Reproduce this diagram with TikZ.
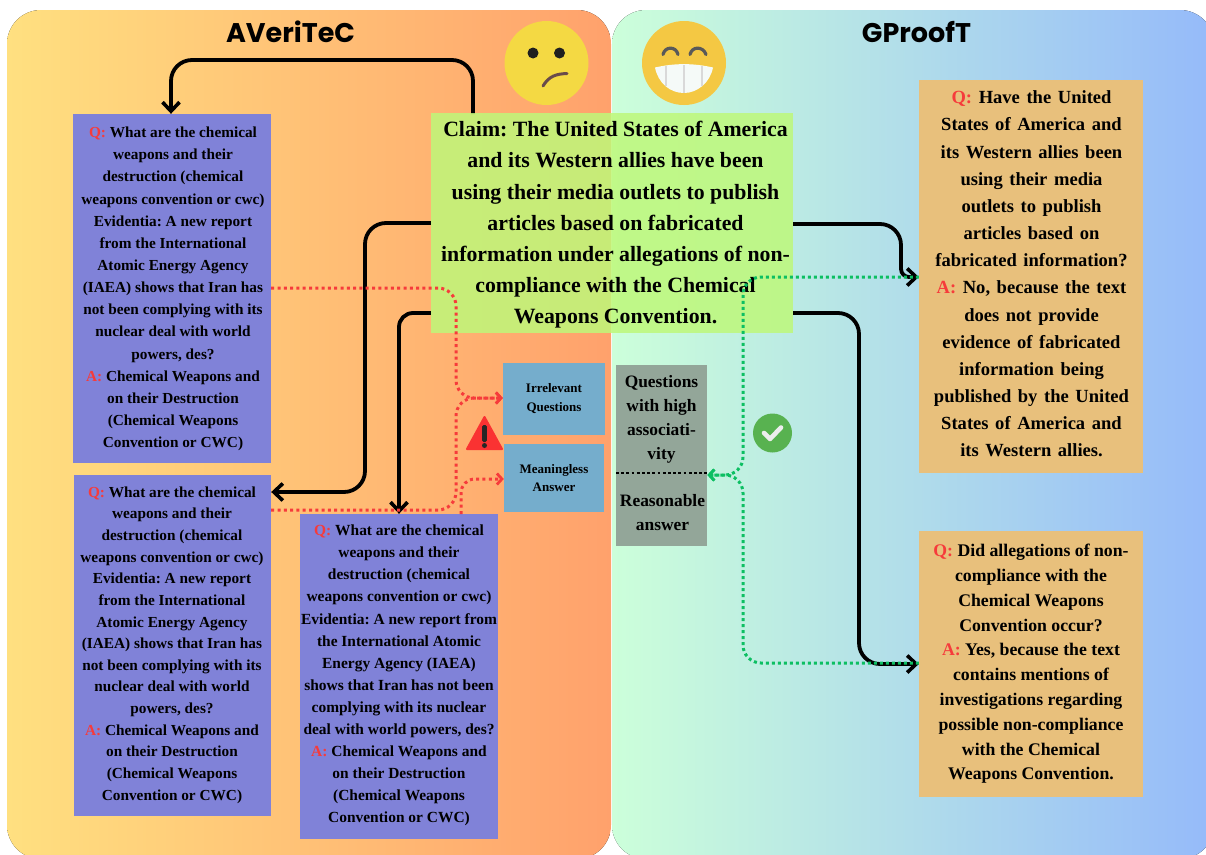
\documentclass[tikz,border=0pt]{standalone}
\usepackage{fontspec}
\setmainfont{Liberation Serif}
\newfontfamily\headfont{Poppins}
\usetikzlibrary{arrows.meta,calc}
\definecolor{qred}{HTML}{F63B3B}
\definecolor{boxblue}{HTML}{8082D8}
\definecolor{lblue}{HTML}{75ADCC}
\definecolor{greybox}{HTML}{93A699}
\definecolor{ansbox}{HTML}{E8C07C}
\definecolor{claimgreen}{HTML}{BEF87A}
\definecolor{dotred}{HTML}{F63B3B}
\definecolor{dotgreen}{HTML}{0CBF62}
\newcommand{\Qq}{\textcolor{qred}{Q:} }
\newcommand{\Aa}{\textcolor{qred}{A:} }
\tikzset{
  qbox/.style={fill=boxblue,draw=none,inner sep=0pt},
  qtext/.style={inner sep=0pt,align=center,text=black,font=\frenchspacing\bfseries\fontsize{15.3}{#1}\selectfont},
  ansnode/.style={fill=ansbox,draw=none,inner sep=0pt},
  anstext/.style={inner sep=0pt,align=center,text=black,font=\frenchspacing\bfseries\fontsize{#1}{#1}\selectfont},
  smallbox/.style={fill=lblue,draw=none,inner sep=0pt,align=center,text=black,font=\bfseries\fontsize{13}{18.7}\selectfont},
  blackline/.style={draw=black,line width=3.8pt,rounded corners=21pt},
  blackarrow/.style={blackline,-{Straight Barb[length=9pt,width=17pt,line width=3.6pt]}},
  reddot/.style={draw=dotred,line width=3pt,dash pattern=on 3pt off 3.3pt,rounded corners=18pt},
  greendot/.style={draw=dotgreen,line width=3pt,dash pattern=on 3pt off 3pt,rounded corners=18pt},
  dottip/.style={-{Straight Barb[length=5pt,width=11pt,line width=2.8pt]}},
}
\begin{document}
\begin{tikzpicture}[x=1pt,y=-1pt]
\useasboundingbox (0,0) rectangle (1206,854);
% panels
\begin{scope}
\clip[rounded corners=34pt] (7,10) rectangle (611,859);
\fill[left color={rgb,255:red,255;green,224;blue,128},right color={rgb,255:red,255;green,161;blue,108}] (7,10) rectangle (611,859);
\end{scope}
\begin{scope}
\clip[rounded corners=34pt] (612,10) rectangle (1214,859);
\fill[left color={rgb,255:red,204;green,255;blue,218},right color={rgb,255:red,149;green,186;blue,250}] (612,10) rectangle (1214,859);
\end{scope}
% titles
\node[font=\headfont\bfseries\fontsize{27}{30}\selectfont] (t1) at (290.5,32) {AVeriTeC};
\node[font=\headfont\bfseries\fontsize{27}{30}\selectfont] (t2) at (916.5,32) {GProofT};
% sad face
\fill[fill={rgb,255:red,244;green,217;blue,67}] (546.5,63) circle (42);
\fill[black!88] (533,53) circle (5.5) (559.5,53) circle (5.5);
\draw[draw={rgb,255:red,105;green,75;blue,75},line width=3pt,line cap=round] (543,86) .. controls (549,76) and (556,74) .. (567,73.5);
% grin face
\fill[fill={rgb,255:red,244;green,200;blue,67}] (684,63) circle (42);
\draw[draw=black!65,line width=3.2pt,line cap=round] (663,54.5) .. controls (665,46) and (676,46) .. (678,54.5);
\draw[draw=black!65,line width=3.2pt,line cap=round] (690,54.5) .. controls (692,46) and (703,46) .. (706,54.5);
\fill[fill={rgb,255:red,245;green,250;blue,248}] (655,67.5) .. controls (675,63) and (693,63) .. (713,67.5) .. controls (710,83) and (697,93) .. (684,93) .. controls (670,93) and (658,83) .. (655,67.5) -- cycle;
\draw[draw=black!15,line width=2.6pt] (666,66) -- (666,86) (684,65) -- (684,92.5) (702,66) -- (702,86);
% connector ends on the claim
\coordinate (c1) at (473,114);
\coordinate (c2) at (431,223);
\coordinate (c3) at (431,313);
\coordinate (c4) at (793,224);
\coordinate (c5) at (793,313);
% boxes
\node[qbox,minimum width=198pt,minimum height=349pt] (b1) at (172,288.5) {};
\node[qtext=22.14] (b1t) at (173,289) {\Qq What are the chemical\\weapons and their\\destruction (chemical\\weapons convention or cwc)\\Evidentia: A new report\\from the International\\Atomic Energy Agency\\(IAEA) shows that Iran has\\not been complying with its\\nuclear deal with world\\powers, des?\\\Aa Chemical Weapons and\\on their Destruction\\(Chemical Weapons\\Convention or CWC)};
\node[qbox,minimum width=197pt,minimum height=341pt] (b2) at (172.5,645.5) {};
\node[qtext=21.64] (b2t) at (172,645) {\Qq What are the chemical\\weapons and their\\destruction (chemical\\weapons convention or cwc)\\Evidentia: A new report\\from the International\\Atomic Energy Agency\\(IAEA) shows that Iran has\\not been complying with its\\nuclear deal with world\\powers, des?\\\Aa Chemical Weapons and\\on their Destruction\\(Chemical Weapons\\Convention or CWC)};
\node[qbox,minimum width=198pt,minimum height=325pt] (b3) at (399,676.5) {};
\node[qtext=22.08,font=\frenchspacing\bfseries\fontsize{15.45}{22.08}\selectfont] (b3t) at (399,675.5) {\Qq What are the chemical\\weapons and their\\destruction (chemical\\weapons convention or cwc)\\Evidentia: A new report from\\the International Atomic\\Energy Agency (IAEA)\\shows that Iran has not been\\complying with its nuclear\\deal with world powers, des?\\\Aa Chemical Weapons and\\on their Destruction\\(Chemical Weapons\\Convention or CWC)};
\node[smallbox,minimum width=102pt,minimum height=72pt] (irr) at (554,399) {};
\node[smallbox] (irrt) at (554,398.5) {Irrelevant\\Questions};
\node[smallbox,minimum width=100pt,minimum height=68pt] (mea) at (554,478) {};
\node[smallbox] (meat) at (554,478) {Meaningless\\Answer};
\node[fill=greybox,inner sep=0pt,minimum width=91pt,minimum height=181pt,anchor=north west] (gr) at (616,365) {};
\node[font=\frenchspacing\bfseries\fontsize{17.4}{24}\selectfont,align=center,text=black] (grt) at (661.5,419) {Questions\\with high\\associati-\\vity};
\node[font=\frenchspacing\bfseries\fontsize{17.4}{24}\selectfont,align=center,text=black] (gra) at (662.5,513) {Reasonable\\answer};
\coordinate (grl) at (616,473); \coordinate (grr) at (707,473);
\draw[draw=black,line width=2.8pt,dash pattern=on 2.8pt off 2.4pt] (grl) -- (grr);
\node[ansnode,minimum width=224pt,minimum height=393pt] (a1) at (1031,276.5) {};
\node[anstext=18.5,font={\frenchspacing\bfseries\fontsize{18.55}{27.15}\selectfont\spaceskip 6.6pt\relax}] (a1t) at (1031.5,274) {\Qq Have the United\\States of America and\\its Western allies been\\using their media\\outlets to publish\\articles based on\\fabricated information?\\\Aa No, because the text\\does not provide\\evidence of fabricated\\information being\\published by the United\\States of America and\\its Western allies.};
\node[ansnode,minimum width=224pt,minimum height=266pt] (a2) at (1031,664) {};
\node[anstext=17.75,font=\frenchspacing\bfseries\fontsize{17.75}{24.8}\selectfont] (a2t) at (1031,664) {\Qq Did allegations of non-\\compliance with the\\Chemical Weapons\\Convention occur?\\\Aa Yes, because the text\\contains mentions of\\investigations regarding\\possible non-compliance\\with the Chemical\\Weapons Convention.};
% black connectors
\draw[blackarrow] (c1) -- (473,60) -- (171,60) -- (b1.north -| 171,0);
\draw[blackarrow] (c2) -- (365,223) -- (365,492) -- (b2.east |- 0,492);
\draw[blackarrow,rounded corners=14pt] (c3) -- (399,313) -- (b3.north);
\draw[blackarrow] (c4) -- (901,224) [rounded corners=8pt] -- (901,277) -- (a1.west |- 0,277);
\draw[blackarrow] (c5) -- (859,313) -- (859,664) -- (a2.west);
% claim
\node[fill=claimgreen,fill opacity=.85,inner sep=0pt,minimum width=362pt,minimum height=220pt] (claim) at (612,223) {};
\node[inner sep=0pt,align=center,text=black,font=\frenchspacing\bfseries\fontsize{21.8}{31.2}\selectfont] (claimt) at (615.5,225) {Claim: The United States of America\\and its Western allies have been\\using their media outlets to publish\\articles based on fabricated\\information under allegations of non-\\compliance with the Chemical\\Weapons Convention.};
% red dotted
\draw[reddot,dottip] (b1.east |- 0,288) -- (456,288) -- (456,398) -- (irr.west |- 0,398);
\draw[reddot,dottip] (b2.east |- 0,510) -- (456,510) -- (456,398) -- (irr.west |- 0,398);
\draw[reddot,dottip,rounded corners=14pt] (461,514) -- (461,479) -- (mea.west |- 0,479);
% green dotted
\draw[greendot,dottip] (a1.west |- 0,277) -- (743,277) -- (743,475) -- (gr.east |- 0,475);
\draw[greendot,dottip] (a2.west |- 0,663) -- (743,663) -- (743,475) -- (gr.east |- 0,475);
% warning
\fill[fill={rgb,255:red,250;green,50;blue,50},draw={rgb,255:red,250;green,50;blue,50},line width=2pt,line join=round] (484.5,417) -- (502,449) -- (467,449) -- cycle;
\fill[black!85,rounded corners=1.5pt] (482.2,425) rectangle (486.8,442);
\fill[black!85] (484.5,445.5) circle (2.5);
% check
\fill[fill={rgb,255:red,88;green,178;blue,80}] (772.5,433) circle (19.5);
\draw[draw=white!93!black,line width=4.6pt,line cap=round,line join=round] (764,433) -- (770,439) -- (781,427.5);
\end{tikzpicture}
\end{document}
